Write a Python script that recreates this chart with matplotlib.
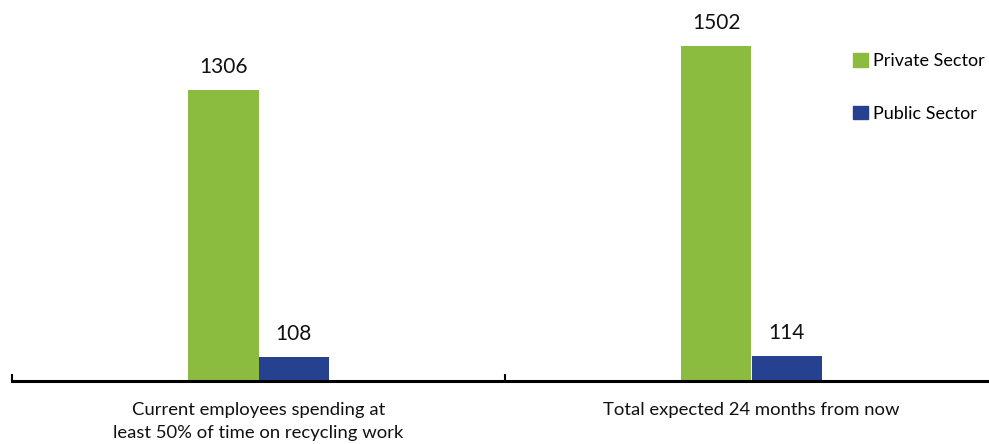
import matplotlib
matplotlib.use("Agg")
import matplotlib.pyplot as plt
from matplotlib.patches import Patch
import numpy as np

categories = ["Current employees spending at\nleast 50% of time on recycling work",
              "Total expected 24 months from now"]
series_names = ["Private Sector", "Public Sector"]
private_vals = [1306, 1502]
public_vals = [108, 114]
colors = ["#8BBB3F", "#26418F"]

plt.rcParams['font.family'] = ['Lato', 'DejaVu Sans']

W, H = 989, 444
fig = plt.figure(figsize=(W / 100, H / 100), dpi=100)
ax = fig.add_axes([12 / W, 1 - 381 / H, 986 / W, 381 / H])

x = np.arange(len(categories))
bw = 0.142
b1 = ax.bar(x - bw / 2, private_vals, bw, color=colors[0])
b2 = ax.bar(x + bw / 2, public_vals, bw, color=colors[1])
for bars, vals in ((b1, private_vals), (b2, public_vals)):
    for rect, v in zip(bars, vals):
        ax.annotate(str(v), (rect.get_x() + rect.get_width() / 2, v),
                    xytext=(0, 9), textcoords='offset points',
                    ha='center', va='bottom', fontsize=15, color='#111111')

ax.set_xlim(-0.5, 1.5)
ax.set_ylim(0, 1708)
for s in ['top', 'right', 'left']:
    ax.spines[s].set_visible(False)
ax.spines['bottom'].set_linewidth(2.2)
ax.set_yticks([])
ax.set_xticks([-0.5, 0.5])
ax.set_xticklabels(['', ''])
ax.tick_params(axis='x', which='major', direction='in', length=5, width=1.5)
ax.set_xticks(x, minor=True)
ax.set_xticklabels(categories, minor=True, fontsize=13.3, color='#111111',
                   linespacing=1.55)
ax.tick_params(axis='x', which='minor', length=0, pad=15)

handles = [Patch(color=c) for c in colors]
fig.legend(handles, series_names, loc='upper left',
           bbox_to_anchor=(846 / W, 1 - 46 / H), frameon=False,
           fontsize=13, handlelength=0.8, handleheight=0.8,
           handletextpad=0.3, labelspacing=2.0, borderaxespad=0)

fig.savefig("out.png", dpi=100)
